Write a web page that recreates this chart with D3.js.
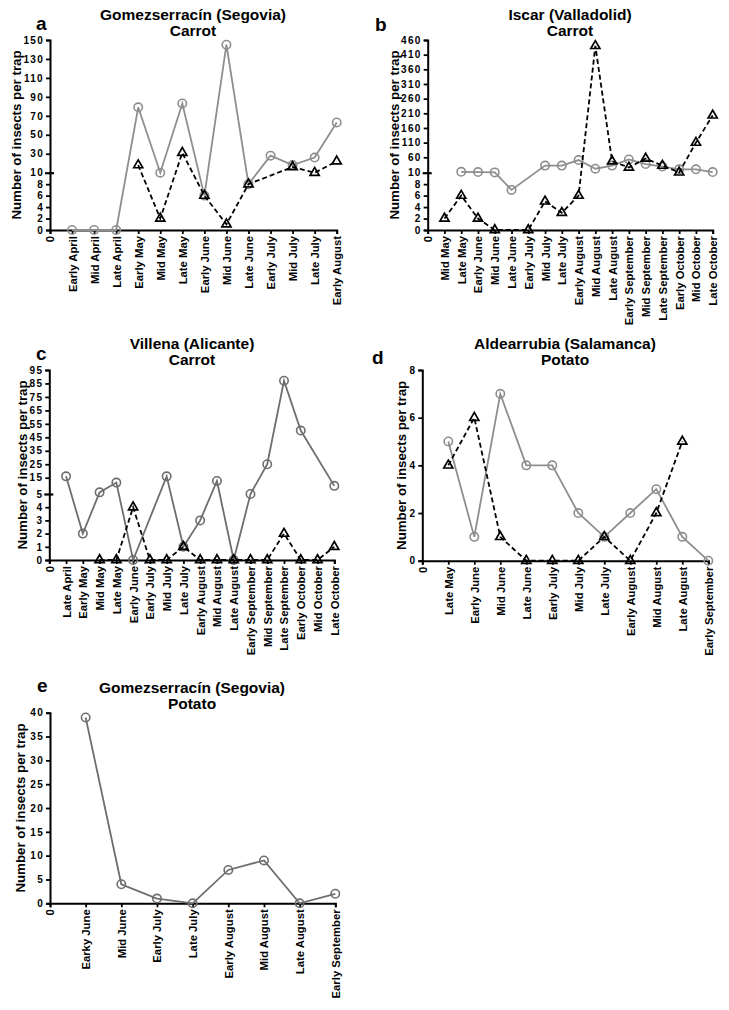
<!DOCTYPE html>
<html><head><meta charset="utf-8">
<script src="https://cdn.jsdelivr.net/npm/d3@7"></script>
<style>
body{margin:0;background:#fff;}
text{font-family:"Liberation Sans",Arial,sans-serif;font-weight:bold;fill:#000;}
</style></head>
<body>
<svg id="chart" width="729" height="1010"></svg>
<script>
// ---------- DATA ----------
const catsA = ["0","Early April","Mid April","Late April","Early May","Mid May","Late May","Early June","Mid June","Late June","Early July","Mid July","Late July","Early August"];
const circA = [null,0,0,0,79,10,83,6,145,8,28,18,26,63];
const triA  = [null,null,null,null,18,2,31,6,1,8,null,16,10,22];
const ticksA = [0,2,4,6,8,10,30,50,70,90,110,130,150];

const catsB = ["0","Mid May","Late May","Early June","Mid June","Late June","Early July","Mid July","Late July","Early August","Mid August","Late August","Early September","Mid September","Late September","Early October","Mid October","Late October"];
const circB = [null,null,13,12,11,7,null,33,33,51,23,33,53,38,30,21,21,12];
const triB  = [null,2,6,2,0,null,0,5,3,6,440,47,27,56,33,11,110,203];
const ticksB = [0,2,4,6,8,10,60,110,160,210,260,310,360,410,460];

const catsC = ["0","Late April","Early May","Mid May","Late May","Early June","Early July","Mid July","Late July","Early August","Mid August","Late August","Early September","Mid September","Late September","Early October","Mid October","Late October"];
const circC = [null,16,2,6,12,0,null,16,1,3,13,0,5,25,87,50,null,10];
const triC  = [null,null,null,0,0,4,0,0,1,0,0,0,0,0,2,0,0,1];
const ticksC = [0,1,2,3,4,5,15,25,35,45,55,65,75,85,95];

const catsD = ["0","Late May","Early June","Mid June","Late June","Early July","Mid July","Late July","Early August","Mid August","Late August","Early September"];
const circD = [null,5,1,7,4,4,2,1,2,3,1,0];
const triD  = [null,4,6,1,0,0,0,1,0,2,5,null];
const ticksD = [0,2,4,6,8];

const catsE = ["0","Earky June","Mid June","Early July","Late July","Early August","Mid August","Late August","Early September"];
const circE = [null,39,4,1,0,7,9,0,2];
const ticksE = [0,5,10,15,20,25,30,35,40];

// ---------- LAYOUT ----------
const panels = [
  {letter:"a", t1:"Gomezserracín (Segovia)", t2:"Carrot", cats:catsA, circ:circA, tri:triA, ticks:ticksA, brk:10,
   x0:50, x1:336.7, yDom:[0,10,150], yRng:[230,172.7,40], tx:193, ty:20, lx:36, ly:30, ylx:16, gray:"#8e8e8e"},
  {letter:"b", t1:"Iscar (Valladolid)", t2:"Carrot", cats:catsB, circ:circB, tri:triB, ticks:ticksB, brk:10,
   x0:427.7, x1:712.7, yDom:[0,10,60,460], yRng:[230,172.7,157.3,40], tx:570, ty:20, lx:375, ly:31, ylx:394, gray:"#8e8e8e"},
  {letter:"c", t1:"Villena (Alicante)", t2:"Carrot", cats:catsC, circ:circC, tri:triC, ticks:ticksC, brk:5,
   x0:49.3, x1:334.3, yDom:[0,5,15,95], yRng:[560,494,477.7,370], tx:192, ty:349, lx:36, ly:360, ylx:22, gray:"#6e6e6e"},
  {letter:"d", t1:"Aldearrubia (Salamanca)", t2:"Potato", cats:catsD, circ:circD, tri:triD, ticks:ticksD, brk:null,
   x0:422.3, x1:708.3, yDom:[0,8], yRng:[560.7,370], tx:565, ty:349, lx:372, ly:364, ylx:401, gray:"#8e8e8e"},
  {letter:"e", t1:"Gomezserracín (Segovia)", t2:"Potato", cats:catsE, circ:circE, tri:null, ticks:ticksE, brk:null,
   x0:50, x1:335.3, yDom:[0,40], yRng:[903.3,712.7], tx:192, ty:693, lx:37, ly:692, ylx:20, gray:"#6e6e6e"}
];

const svg = d3.select("#chart");

panels.forEach(p => {
  const g = svg.append("g");
  const x = d3.scalePoint().domain(p.cats).range([p.x0, p.x1]).padding(0);
  const y = d3.scaleLinear().domain(p.yDom).range(p.yRng);
  const yBase = y(0);

  // titles
  g.append("text").attr("x", p.tx).attr("y", p.ty).attr("text-anchor","middle").style("font-size","15.5px").text(p.t1);
  g.append("text").attr("x", p.tx).attr("y", p.ty+16).attr("text-anchor","middle").style("font-size","15.5px").text(p.t2);
  g.append("text").attr("x", p.lx).attr("y", p.ly).style("font-size","19px").text(p.letter);

  // y label
  const yc = (p.yRng[0] + p.yRng[p.yRng.length-1]) / 2;
  g.append("text").attr("transform", `translate(${p.ylx},${yc}) rotate(-90)`)
    .attr("text-anchor","middle").attr("dy","0.35em").style("font-size","13.3px").text("Number of insects per trap");

  // y axis
  const yAxis = d3.axisLeft(y).tickValues(p.ticks).tickSize(4).tickPadding(2).tickFormat(d3.format("d"));
  const ga = g.append("g").attr("transform", `translate(${p.x0},0)`).call(yAxis);
  ga.select(".domain").attr("stroke","#000").attr("stroke-width",2);
  ga.selectAll(".tick line").attr("stroke","#000").attr("stroke-width",1.8);
  ga.selectAll(".tick text").style("font-size","10px").style("letter-spacing","1.3px")
    .style("font-family","'Liberation Sans',Arial,sans-serif").style("font-weight","bold");
  if (p.brk !== null) {
    ga.selectAll(".tick").filter(d => d === p.brk).select("line").attr("x1", 4).attr("x2", -5).attr("stroke-width", 2.2);
  }

  // x axis
  const xAxis = d3.axisBottom(x).tickSize(4).tickPadding(3);
  const gx = g.append("g").attr("transform", `translate(0,${yBase})`).call(xAxis);
  gx.select(".domain").attr("stroke","#000").attr("stroke-width",2);
  gx.selectAll(".tick line").attr("stroke","#000").attr("stroke-width",1.8);
  gx.selectAll(".tick text")
    .style("font-size","11.3px").style("font-family","'Liberation Sans',Arial,sans-serif").style("font-weight","bold")
    .attr("text-anchor","end").attr("transform","rotate(-90)")
    .attr("x", -6).attr("y", 0).attr("dy","0.35em");

  // circle series
  const cData = p.cats.map((c,i)=>({c, v:p.circ[i]})).filter(d => d.v !== null);
  const line = d3.line().x(d => x(d.c)).y(d => y(d.v));
  g.append("path").datum(cData).attr("d", line).attr("fill","none").attr("stroke",p.gray).attr("stroke-width",1.8);
  g.selectAll(".circ").data(cData).enter().append("circle")
    .attr("cx", d => x(d.c)).attr("cy", d => y(d.v)).attr("r", 4.2)
    .attr("fill","none").attr("stroke", p.gray).attr("stroke-width",1.6);

  // triangle series
  if (p.tri) {
    const tData = p.cats.map((c,i)=>({c, v:p.tri[i]})).filter(d => d.v !== null);
    g.append("path").datum(tData).attr("d", line).attr("fill","none").attr("stroke","#000")
      .attr("stroke-width",1.8).attr("stroke-dasharray","5,3");
    const sym = d3.symbol().type(d3.symbolTriangle).size(36);
    g.selectAll(".tri").data(tData).enter().append("path")
      .attr("d", sym).attr("transform", d => `translate(${x(d.c)},${y(d.v)})`)
      .attr("fill","none").attr("stroke","#000").attr("stroke-width",1.7);
  }
});
</script>
</body></html>
